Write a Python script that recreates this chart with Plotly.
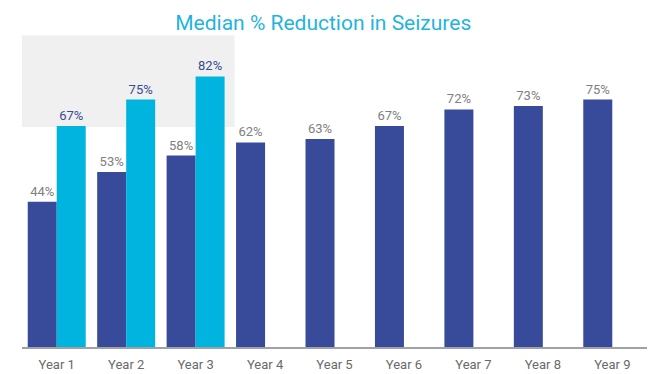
import plotly.graph_objects as go

categories = ["Year 1", "Year 2", "Year 3", "Year 4", "Year 5", "Year 6", "Year 7", "Year 8", "Year 9"]
dark_values = [44, 53, 58, 62, 63, 67, 72, 73, 75]
light_categories = ["Year 1", "Year 2", "Year 3"]
light_values = [67, 75, 82]

fig = go.Figure()
fig.add_trace(go.Bar(
    x=categories, y=dark_values, marker_color="#384A9A", marker_line_width=0,
    text=[f"{v}%" for v in dark_values], textposition="outside",
    textfont=dict(color="#808080", size=13), cliponaxis=False, name="A",
))
fig.add_trace(go.Bar(
    x=light_categories, y=light_values, marker_color="#00B4E0", marker_line_width=0,
    text=[f"{v}%" for v in light_values], textposition="outside",
    textfont=dict(color="#3B4A94", size=13), cliponaxis=False, name="B",
))

fig.add_shape(type="rect", xref="x", yref="y", x0=-0.65, x1=2.56, y0=66.7, y1=94.5,
              fillcolor="#F0F0F0", line_width=0, layer="below")

fig.update_layout(
    width=657, height=374,
    margin=dict(l=22, r=10, t=17, b=27, autoexpand=False),
    barmode="group", bargap=0.165, bargroupgap=0,
    showlegend=False,
    plot_bgcolor="white", paper_bgcolor="white",
    font=dict(family="Roboto, Arial, sans-serif"),
    title=dict(text="Median % Reduction in Seizures", x=0.492, xanchor="center",
               y=0.94, yanchor="middle", yref="container", automargin=False,
               font=dict(size=21, color="#1FB4E0")),
)
fig.update_xaxes(range=[-0.5, 8.5], autorange=False, automargin=False,
                 showline=True, linecolor="#A0A0A8", linewidth=1.5, ticks="",
                 ticklabelstandoff=5,
                 tickfont=dict(size=13, color="#6A6A6A"), showgrid=False)
fig.update_yaxes(range=[0, 100], autorange=False, automargin=False, visible=False, showgrid=False)

fig.write_html("out.html", config={"displayModeBar": False},
               post_script="document.body.style.margin='0';")
